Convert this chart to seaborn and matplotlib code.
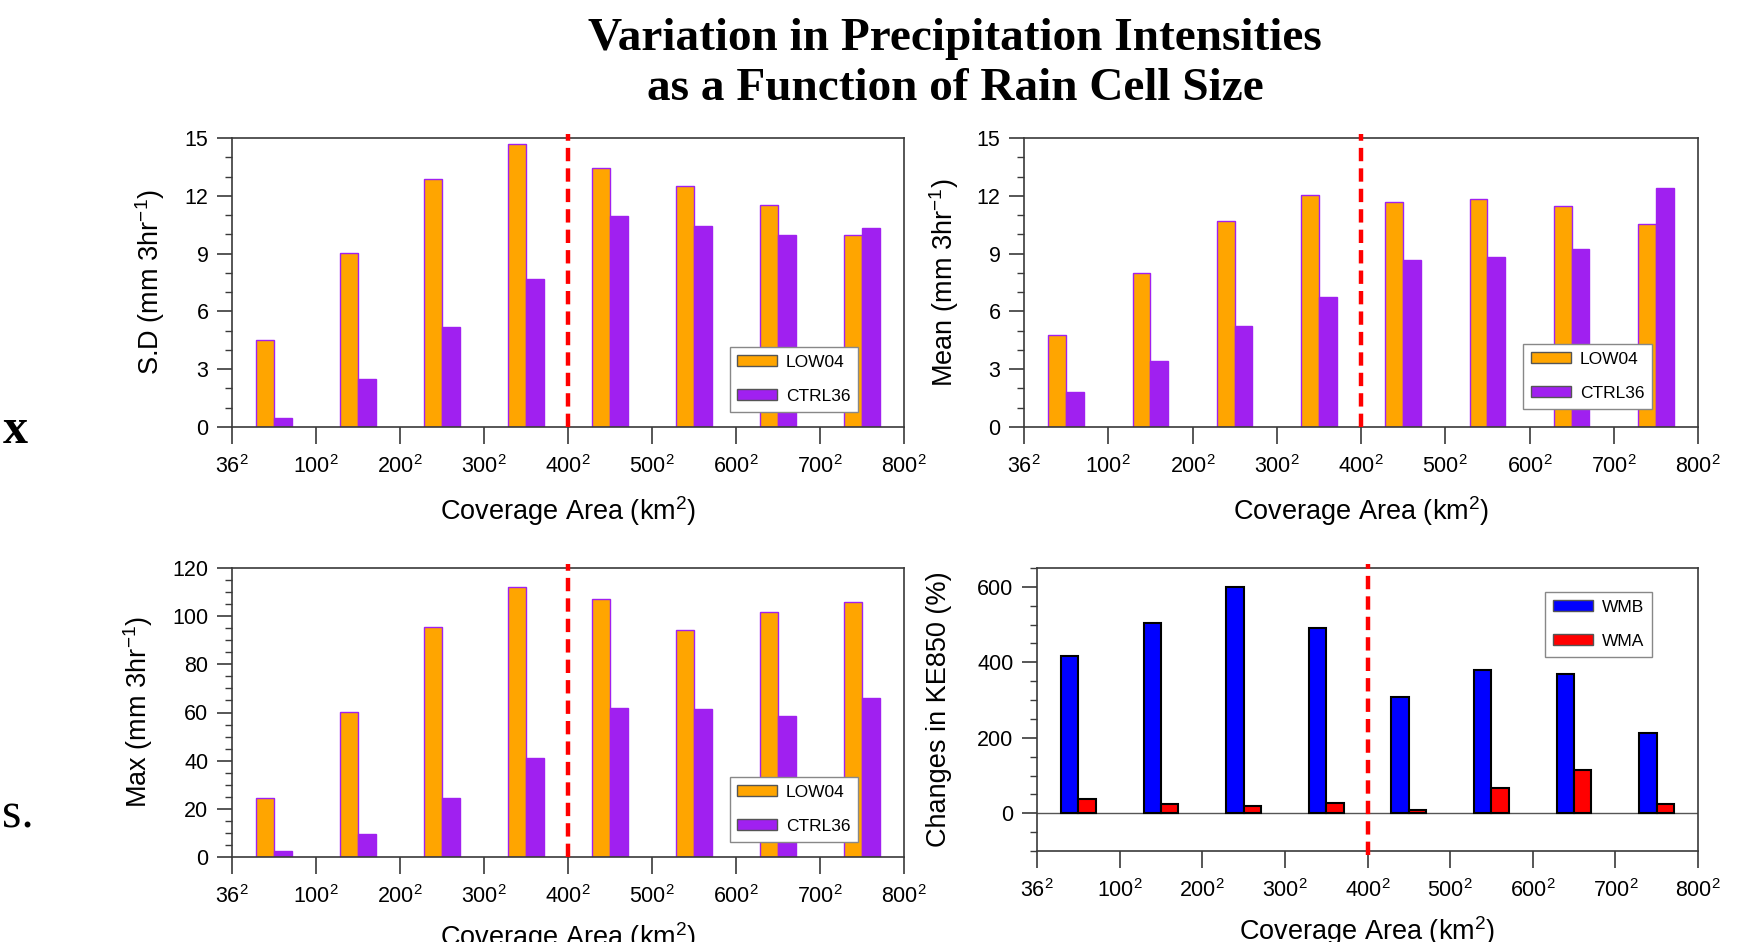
import numpy as np
import pandas as pd
import matplotlib
matplotlib.use("Agg")
import matplotlib.pyplot as plt
import seaborn as sns
from matplotlib.patches import Patch
from matplotlib.ticker import MultipleLocator, FixedLocator

# ---------------- data ----------------
tick_labels = ["36", "100", "200", "300", "400", "500", "600", "700", "800"]
bins = [f"{a}-{b}" for a, b in zip(tick_labels[:-1], tick_labels[1:])]

sd_low04 = [4.5, 9.05, 12.85, 14.7, 13.45, 12.5, 11.5, 9.95]
sd_ctrl36 = [0.45, 2.5, 5.2, 7.7, 10.95, 10.45, 9.95, 10.35]

mean_low04 = [4.75, 8.0, 10.7, 12.05, 11.7, 11.85, 11.45, 10.55]
mean_ctrl36 = [1.8, 3.45, 5.25, 6.75, 8.65, 8.8, 9.25, 12.4]

max_low04 = [24.5, 60.2, 95.6, 112.0, 107.2, 94.3, 101.7, 106.0]
max_ctrl36 = [2.5, 9.6, 24.3, 40.9, 62.0, 61.3, 58.4, 66.2]

ke_wmb = [418, 503, 600, 491, 307, 381, 368, 214]
ke_wma = [39, 25, 19, 26, 8, 66, 115, 25]

threshold_bin = 3.5  # boundary at 400^2

# ---------------- style ----------------
plt.rcParams["font.family"] = ["Liberation Sans", "DejaVu Sans"]
plt.rcParams["mathtext.fontset"] = "custom"
plt.rcParams["mathtext.rm"] = "Liberation Sans"
plt.rcParams["mathtext.it"] = "Liberation Sans:italic"
plt.rcParams["mathtext.bf"] = "Liberation Sans:bold"

ORANGE = "#FFA500"
PURPLE = "#A020F0"
BLUE = "#0000FF"
RED = "#FF0000"
SPINE = "#3a3a3a"

fig = plt.figure(figsize=(17.42, 9.42), dpi=100)
W, H = 1742.0, 942.0


def add_axes(left, right, top, bottom):
    return fig.add_axes([left / W, 1 - bottom / H, (right - left) / W, (bottom - top) / H])


def panel(ax, s1, s2, names, colors, edge, lw, ylim, major, minor, ylabel,
          ylab_x, xlab_y, leg_anchor, leg_edge, yticks=None):
    df = pd.DataFrame({
        "bin": bins * 2,
        "series": [names[0]] * len(bins) + [names[1]] * len(bins),
        "value": list(s1) + list(s2),
    })
    sns.barplot(data=df, x="bin", y="value", hue="series", order=bins,
                hue_order=names, palette=colors, saturation=1, width=0.42,
                errorbar=None, edgecolor=edge, linewidth=lw, ax=ax, legend=False)
    ax.set_xlim(-0.5, len(bins) - 0.5)
    ax.set_ylim(*ylim)
    ax.set_xticks(np.arange(-0.5, len(bins), 1.0))
    ax.set_xticklabels([rf"$\mathrm{{{t}}}^{{2}}$" for t in tick_labels])
    if yticks is not None:
        ax.yaxis.set_major_locator(FixedLocator(yticks))
    else:
        ax.yaxis.set_major_locator(MultipleLocator(major))
    ax.yaxis.set_minor_locator(MultipleLocator(minor))
    for sp in ax.spines.values():
        sp.set_color(SPINE)
        sp.set_linewidth(1.2)
    ax.tick_params(axis="x", which="major", length=12, width=1.2, direction="out",
                   pad=8, labelsize=15.5, colors="black", color=SPINE)
    ax.tick_params(axis="y", which="major", length=11, width=1.2, direction="out",
                   pad=6, labelsize=15.5, color=SPINE)
    ax.tick_params(axis="y", which="minor", length=5, width=1.0, direction="out",
                   color=SPINE)
    ax.tick_params(axis="x", which="minor", length=0)
    ax.set_xlabel(r"Coverage Area (km$^{2}$)", fontsize=19.5)
    ax.xaxis.set_label_coords(0.5, xlab_y)
    ax.xaxis.label.set_va("center")
    ax.set_ylabel(ylabel, fontsize=19.5, va="center")
    ax.yaxis.set_label_coords(ylab_x, 0.5)
    ax.set_facecolor("white")
    handles = [Patch(facecolor=colors[0], edgecolor=leg_edge, linewidth=1.0, label=names[0]),
               Patch(facecolor=colors[1], edgecolor=leg_edge, linewidth=1.0, label=names[1])]
    leg = ax.legend(handles=handles, loc="upper right", bbox_to_anchor=leg_anchor,
                    bbox_transform=ax.transAxes, borderaxespad=0, fontsize=12.5,
                    handlelength=2.3, handleheight=0.6, labelspacing=1.1,
                    handletextpad=0.5, borderpad=0.45, fancybox=False, framealpha=1,
                    edgecolor="#888888")
    leg.get_frame().set_linewidth(1.0)


# panel positions (pixels)
ax1 = add_axes(232, 904, 138, 427)
ax2 = add_axes(1024, 1698, 138, 427)
ax3 = add_axes(232, 904, 568, 857)
ax4 = add_axes(1037, 1698, 568, 851)

panel(ax1, sd_low04, sd_ctrl36, ["LOW04", "CTRL36"], [ORANGE, PURPLE], PURPLE, 1.0,
      (0, 15), 3, 1, r"S.D (mm 3hr$^{-1}$)", -0.122, -0.29, (0.932, 0.277), "#555555")
panel(ax2, mean_low04, mean_ctrl36, ["LOW04", "CTRL36"], [ORANGE, PURPLE], PURPLE, 1.0,
      (0, 15), 3, 1, r"Mean (mm 3hr$^{-1}$)", -0.119, -0.29, (0.932, 0.287), "#555555")
panel(ax3, max_low04, max_ctrl36, ["LOW04", "CTRL36"], [ORANGE, PURPLE], PURPLE, 1.0,
      (0, 120), 20, 5, r"Max (mm 3hr$^{-1}$)", -0.140, -0.277, (0.932, 0.277), "#555555")
panel(ax4, ke_wmb, ke_wma, ["WMB", "WMA"], [BLUE, RED], "black", 1.5,
      (-100, 650), 200, 50, "Changes in KE850 (%)", -0.148, -0.283, (0.93, 0.915), "#555555",
      yticks=[0, 200, 400, 600])
ax4.axhline(0, color="#555555", lw=1.0, zorder=0.5)

for ax, lo in [(ax1, 0.0), (ax2, 0.0), (ax3, 0.0), (ax4, -0.015)]:
    ax.axvline(threshold_bin, ymin=lo, ymax=1.015, color=RED, lw=3.2,
               dashes=(3, 1.6), clip_on=False, zorder=5)

# title
fig.text(955 / W, 1 - 39 / H, "Variation in Precipitation Intensities", ha="center",
         va="center", fontsize=34, fontweight="bold", family="Liberation Serif")
fig.text(955 / W, 1 - 89 / H, "as a Function of Rain Cell Size", ha="center",
         va="center", fontsize=34, fontweight="bold", family="Liberation Serif")

# fragments of slide text at the left edge
fig.text(3 / W, 1 - 443 / H, "x", ha="left", va="baseline", fontsize=36,
         fontweight="bold", family="Liberation Serif")
fig.text(2 / W, 1 - 828 / H, "s.", ha="left", va="baseline", fontsize=36,
         family="Liberation Serif")

fig.savefig("out.png", dpi=100, facecolor="white")
